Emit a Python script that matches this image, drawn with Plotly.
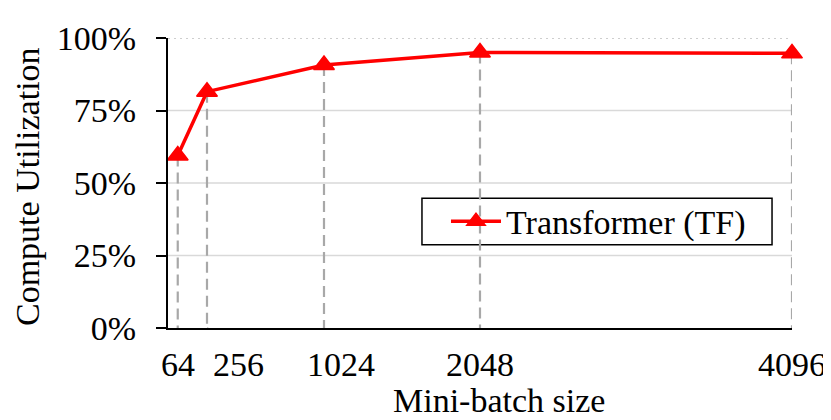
import plotly.graph_objects as go

# ---- data ----
batch_sizes = [64, 256, 1024, 2048, 4096]
tick_labels = ["64", "256", "1024", "2048", "4096"]
utilization = [0.595, 0.815, 0.907, 0.950, 0.947]
series_name = "Transformer (TF)"
y_ticks = [0, 0.25, 0.5, 0.75, 1.0]

# ---- style ----
FONT = "Liberation Serif"
FS = 34
RED = "#FF0000"
DROP = "#A8A8A8"
GRID = "#D9D9D9"
# per-label pixel offsets (label displacement + leader line)
label_dx = [0, 31, 17, 0, 0]
leader = [False, True, True, False, False]

fig = go.Figure()

# dashed drop lines from each point to the x axis
for xv, yv in zip(batch_sizes, utilization):
    fig.add_trace(go.Scatter(
        x=[xv, xv], y=[yv, 0], mode="lines",
        line=dict(color=DROP, width=2.2, dash="11px,6px"),
        showlegend=False, hoverinfo="skip", cliponaxis=False))

fig.add_trace(go.Scatter(
    x=batch_sizes, y=utilization, mode="lines+markers", name=series_name,
    line=dict(color=RED, width=3.5),
    marker=dict(symbol="triangle-up", size=18, color=RED,
                line=dict(color=RED, width=1.5)),
    cliponaxis=False))

shapes = []
# gridlines
for g in y_ticks[1:]:
    shapes.append(dict(
        type="line", xref="paper", yref="y", x0=0, x1=1, y0=g, y1=g,
        layer="below",
        line=dict(color=("#BFBFBF" if g == 1.0 else GRID), width=1.5,
                  dash=("2px,4px" if g == 1.0 else "solid"))))

# legend frame
shapes.append(dict(
    type="rect", xref="paper", yref="paper",
    x0=0.407, x1=0.968, y0=0.287, y1=0.447,
    line=dict(color="black", width=1.5), fillcolor="white", layer="below"))

annotations = []
for xv, lab, dx, ld in zip(batch_sizes, tick_labels, label_dx, leader):
    annotations.append(dict(
        x=xv, y=0, xref="x", yref="y", text=lab, showarrow=False,
        xanchor="center", yanchor="middle", xshift=dx, yshift=-36,
        font=dict(family=FONT, size=FS, color="black")))
    if ld:
        shapes.append(dict(
            type="line", xref="x", yref="y",
            xsizemode="pixel", ysizemode="pixel",
            xanchor=xv, yanchor=0, x0=0, x1=dx, y0=0, y1=-13,
            line=dict(color=DROP, width=1.5)))

# axis titles
annotations.append(dict(
    x=0.5, y=0, xref="paper", yref="paper", text="Mini-batch size",
    showarrow=False, xanchor="center", yanchor="middle",
    xshift=19, yshift=-72,
    font=dict(family=FONT, size=FS, color="black")))
annotations.append(dict(
    x=0, y=0.5, xref="paper", yref="paper", text="Compute Utilization",
    showarrow=False, xanchor="center", yanchor="middle", textangle=-90,
    xshift=-141, yshift=-4, borderpad=0,
    font=dict(family=FONT, size=FS, color="black")))

# page body has an 8px margin: size/margins compensate so the plot area
# lands at x 168..792, y 28..328 in the window
fig.update_layout(
    width=823, height=412,
    margin=dict(l=160, r=39, t=20, b=92),
    paper_bgcolor="white", plot_bgcolor="white",
    font=dict(family=FONT, size=FS, color="black"),
    shapes=shapes, annotations=annotations,
    legend=dict(
        x=0.4455, y=0.367, xanchor="left", yanchor="middle",
        borderwidth=0, bgcolor="rgba(0,0,0,0)",
        font=dict(family=FONT, size=FS, color="black"),
        itemwidth=50),
    xaxis=dict(
        range=[0, 4096], showgrid=False, zeroline=False,
        showline=True, linecolor="black", linewidth=2,
        showticklabels=False, ticks=""),
    yaxis=dict(
        range=[0, 1], tickvals=y_ticks, tickformat=".0%",
        showgrid=False, zeroline=False,
        showline=True, linecolor="black", linewidth=2,
        ticks="outside", ticklen=10, tickwidth=2, tickcolor="black",
        ticklabelstandoff=13,
        tickfont=dict(family=FONT, size=FS, color="black")),
)

fig.write_html("out.html")
